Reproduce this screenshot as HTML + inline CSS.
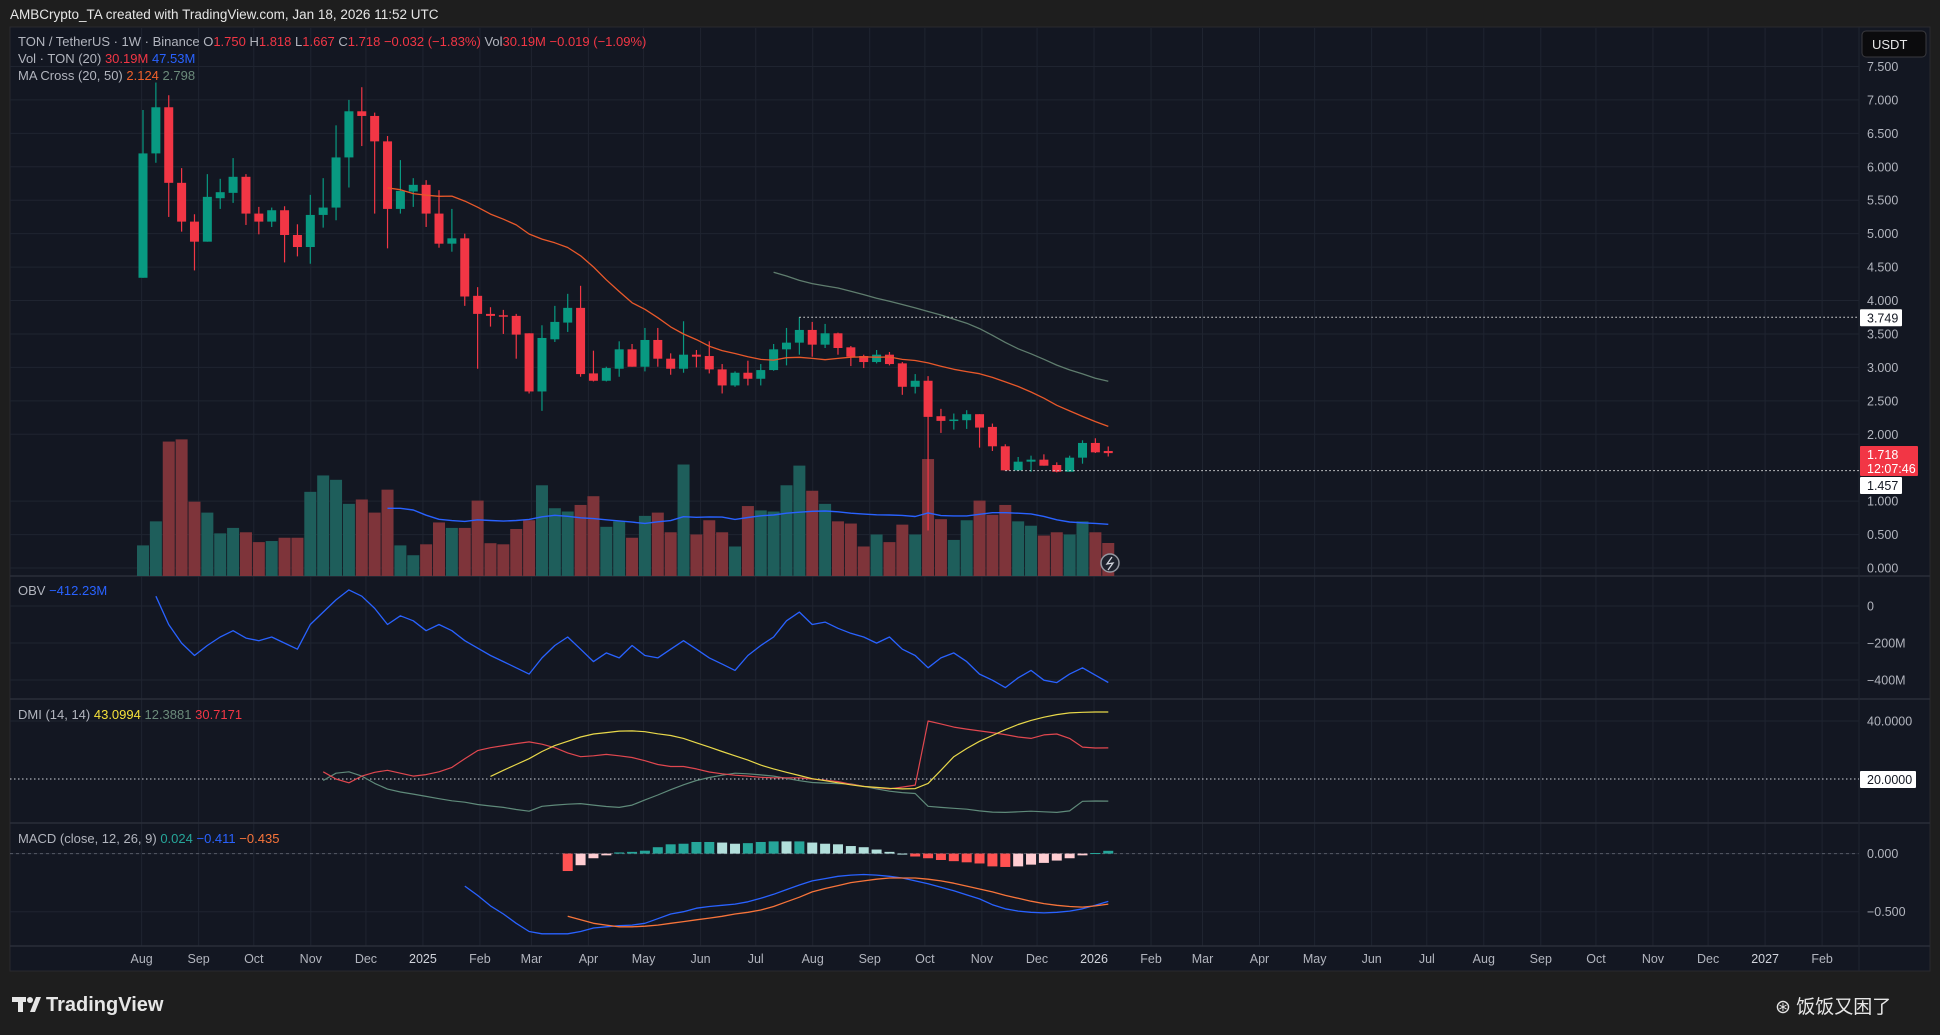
<!DOCTYPE html>
<html><head><meta charset="utf-8"><style>
html,body{margin:0;padding:0;background:#1e1e1e;}
svg{display:block;font-family:"Liberation Sans","Noto Sans CJK SC",sans-serif;}
</style></head><body>
<svg id="c" width="1940" height="1035" viewBox="0 0 1940 1035" xmlns="http://www.w3.org/2000/svg">
<rect x="0" y="0" width="1940" height="1035" fill="#1e1e1e"/>
<text x="10" y="19" font-size="13.5" fill="#e6e6e6">AMBCrypto_TA created with TradingView.com, Jan 18, 2026 11:52 UTC</text>
<rect x="10" y="27" width="1920" height="944" fill="#131722" stroke="#2a2a2e"/>
<g id="grid"></g>
<g id="panes"></g>
<g id="vol"></g>
<g id="candles"></g>
<g id="lines"></g>
<g id="axes"></g>
<g font-size="13">
<text x="18" y="46" fill="#b2b5be">TON / TetherUS · 1W · Binance  O<tspan fill="#f23645">1.750</tspan>  H<tspan fill="#f23645">1.818</tspan>  L<tspan fill="#f23645">1.667</tspan>  C<tspan fill="#f23645">1.718</tspan>  <tspan fill="#f23645">−0.032 (−1.83%)</tspan>  Vol<tspan fill="#f23645">30.19M</tspan>  <tspan fill="#f23645">−0.019 (−1.09%)</tspan></text>
<text x="18" y="63" fill="#b2b5be">Vol · TON (20)  <tspan fill="#f23645">30.19M</tspan>  <tspan fill="#2962ff">47.53M</tspan></text>
<text x="18" y="80" fill="#b2b5be">MA Cross (20, 50)  <tspan fill="#f0602a">2.124</tspan>  <tspan fill="#6b8a7a">2.798</tspan></text>
<text x="18" y="595" fill="#b2b5be">OBV  <tspan fill="#2962ff">−412.23M</tspan></text>
<text x="18" y="719" fill="#b2b5be">DMI (14, 14)  <tspan fill="#f5e03a">43.0994</tspan>  <tspan fill="#6b8a7a">12.3881</tspan>  <tspan fill="#f23645">30.7171</tspan></text>
<text x="18" y="843" fill="#b2b5be">MACD (close, 12, 26, 9)  <tspan fill="#26a69a">0.024</tspan>  <tspan fill="#2962ff">−0.411</tspan>  <tspan fill="#f7743a">−0.435</tspan></text>
</g>
<rect x="1862" y="31" width="64" height="26" rx="4" fill="#0b0b0d" stroke="#3a3a3e"/>
<text x="1872" y="49" font-size="13" fill="#e6e6e6">USDT</text>
<g>
<rect x="12" y="997" width="14" height="5" fill="#e6e6e6"/><rect x="18" y="997" width="5" height="15" fill="#e6e6e6"/><circle cx="30" cy="1000" r="3" fill="#e6e6e6"/><polygon points="30,1012 36,997 41,997 35,1012" fill="#e6e6e6"/>
<text x="46" y="1011" font-size="20" font-weight="bold" fill="#e6e6e6">TradingView</text>
</g>
<text x="1775" y="1013" font-size="19" fill="#e6e6e6">⊛ 饭饭又困了</text>
</svg>
<script>
const opens=[4.34,6.20,6.89,5.76,5.18,4.88,5.53,5.61,5.85,5.30,5.18,5.35,4.98,4.80,5.28,5.39,6.14,6.83,6.76,6.38,5.37,5.63,5.73,5.30,4.85,4.93,4.07,3.80,3.78,3.77,3.51,2.64,3.42,3.67,3.89,2.91,2.80,2.98,3.27,3.01,3.41,3.13,2.98,3.19,3.17,2.97,2.73,2.92,2.83,2.96,3.27,3.37,3.56,3.34,3.51,3.30,3.17,3.08,3.19,3.06,2.71,2.80,2.27,2.21,2.21,2.30,2.11,1.82,1.46,1.59,1.62,1.54,1.44,1.65,1.87,1.750];
const highs=[6.85,7.26,7.07,5.98,5.29,5.89,5.82,6.13,5.89,5.40,5.39,5.41,5.14,5.58,5.83,6.62,7.00,7.19,6.81,6.46,6.10,5.83,5.80,5.65,5.37,5.00,4.20,3.90,3.86,3.80,3.51,3.63,3.92,4.10,4.22,3.25,3.01,3.39,3.35,3.59,3.59,3.21,3.69,3.26,3.39,3.05,2.94,3.10,3.05,3.35,3.59,3.75,3.68,3.65,3.52,3.32,3.19,3.26,3.23,3.08,2.90,2.87,2.38,2.31,2.36,2.30,2.16,1.85,1.66,1.68,1.70,1.58,1.68,1.91,1.94,1.818];
const lows=[4.34,6.06,5.25,5.03,4.45,4.88,5.37,5.46,5.13,4.99,5.10,4.57,4.66,4.55,5.09,5.20,5.69,6.31,5.30,4.78,5.30,5.40,5.10,4.79,4.73,3.92,2.98,3.61,3.50,3.13,2.61,2.35,3.38,3.53,2.86,2.79,2.79,2.86,3.01,2.94,3.01,2.89,2.92,3.00,2.91,2.61,2.71,2.73,2.73,2.95,3.03,3.19,3.16,3.29,3.19,3.02,2.99,3.06,3.03,2.59,2.61,0.56,2.02,2.07,2.08,1.80,1.75,1.46,1.46,1.44,1.53,1.43,1.44,1.56,1.72,1.667];
const closes=[6.20,6.89,5.76,5.18,4.88,5.55,5.62,5.85,5.30,5.18,5.35,4.98,4.80,5.28,5.39,6.14,6.83,6.76,6.38,5.37,5.64,5.73,5.30,4.85,4.93,4.06,3.80,3.77,3.77,3.49,2.64,3.44,3.68,3.89,2.90,2.80,2.99,3.27,3.01,3.41,3.13,2.98,3.19,3.16,2.97,2.73,2.92,2.83,2.96,3.27,3.37,3.56,3.34,3.51,3.29,3.16,3.08,3.19,3.05,2.71,2.80,2.26,2.20,2.22,2.30,2.10,1.82,1.46,1.59,1.62,1.53,1.44,1.65,1.87,1.73,1.718];
const volumes=[28,50,123,125,68,58,39,44,40,31,32,35,35,77,92,88,66,70,58,79,28,19,29,49,44,44,69,30,29,43,51,83,62,59,65,73,45,50,35,55,58,40,102,38,51,40,27,64,60,59,83,101,78,66,50,48,27,38,31,47,38,107,52,33,51,69,56,65,50,46,37,40,38,50,40,30.19];
const obv=[null,53,-100,-200,-267,-213,-167,-133,-173,-187,-167,-200,-233,-100,-33,33,87,53,-13,-100,-53,-80,-133,-100,-133,-187,-227,-267,-300,-333,-367,-280,-213,-167,-233,-300,-253,-280,-213,-267,-280,-233,-187,-233,-280,-313,-347,-267,-213,-167,-80,-33,-100,-87,-120,-147,-167,-200,-167,-233,-267,-333,-280,-253,-300,-367,-400,-440,-387,-347,-400,-413,-367,-333,-373,-412.23];
const adxStart=27;
const adx=[20.9,23,25,27,29.5,31.5,33,34.5,35.5,36,36.5,36.6,36.3,35.6,35,34,32.5,31,29.5,28,26.5,24.8,23.5,22.3,21.2,20.1,19.4,18.7,18,17.4,17.1,16.8,16.6,16.7,18.5,23,27.7,30.5,33,35,37,38.8,40.2,41.3,42.2,42.8,43,43.1,43.0994];
const diStart=14;
const plusDI=[19.5,22,22.5,21,18.5,16.5,15.5,14.8,14,13.2,12.5,12,11.2,10.7,10.2,9.5,8.9,10.6,11,11.3,11.5,11,10.5,10.2,11,12.8,14.5,16.3,18,19.5,20.5,21.3,22,21.8,21.4,21,20.2,19.4,18.8,18.6,18.4,18.3,17.5,16.6,15.8,15.3,15,10.6,10.2,9.9,9.6,9,8.6,8.5,8.7,8.9,8.7,8.5,9,12.3,12.4,12.3881];
const minusDI=[22.5,20,18.7,21,22.3,23,22,21,21.5,22.5,24,27,29.8,30.8,31.5,32.2,32.8,32,30.8,29,27.7,28,28.5,28,27.4,26.3,25,24.3,24.3,23.5,22.4,21.8,21.3,21,20.6,20.4,20.4,20.4,20,19.6,19.1,18.2,17.5,17,16.6,17.2,17.9,40,39,37.9,37.2,36.6,36,35.3,34.5,34,35.2,35.5,34,31,30.7,30.7171];
const macdStart=25;
const macdLine=[-0.28,-0.36,-0.45,-0.52,-0.60,-0.67,-0.69,-0.69,-0.69,-0.67,-0.64,-0.63,-0.62,-0.615,-0.60,-0.56,-0.52,-0.50,-0.47,-0.455,-0.445,-0.435,-0.415,-0.385,-0.35,-0.31,-0.27,-0.235,-0.215,-0.195,-0.185,-0.18,-0.185,-0.195,-0.21,-0.235,-0.26,-0.29,-0.32,-0.355,-0.39,-0.44,-0.475,-0.495,-0.505,-0.51,-0.505,-0.495,-0.475,-0.445,-0.411];
const sigStart=33;
const signalLine=[-0.54,-0.57,-0.60,-0.615,-0.63,-0.63,-0.625,-0.615,-0.60,-0.585,-0.57,-0.555,-0.54,-0.52,-0.505,-0.485,-0.455,-0.415,-0.375,-0.33,-0.30,-0.275,-0.25,-0.235,-0.22,-0.21,-0.21,-0.21,-0.22,-0.235,-0.255,-0.28,-0.305,-0.33,-0.36,-0.385,-0.41,-0.43,-0.445,-0.455,-0.46,-0.45,-0.435];
const priceTicks=[0,0.5,1,2,2.5,3,3.5,4,4.5,5,5.5,6,6.5,7,7.5];
const monthLabels=["Aug","Sep","Oct","Nov","Dec","2025","Feb","Mar","Apr","May","Jun","Jul","Aug","Sep","Oct","Nov","Dec","2026","Feb","Mar","Apr","May","Jun","Jul","Aug","Sep","Oct","Nov","Dec","2027","Feb"];
const monthDates=["2024-08-01","2024-09-01","2024-10-01","2024-11-01","2024-12-01","2025-01-01","2025-02-01","2025-03-01","2025-04-01","2025-05-01","2025-06-01","2025-07-01","2025-08-01","2025-09-01","2025-10-01","2025-11-01","2025-12-01","2026-01-01","2026-02-01","2026-03-01","2026-04-01","2026-05-01","2026-06-01","2026-07-01","2026-08-01","2026-09-01","2026-10-01","2026-11-01","2026-12-01","2027-01-01","2027-02-01"];

const NS="http://www.w3.org/2000/svg";
const X0=143,DX=12.87,PLOT_R=1859,PLOT_L=10;
const xOf=i=>X0+DX*i;
const xDate=d=>X0+6+DX*((new Date(d)-new Date("2024-08-05"))/604800000);
const pY=p=>568-p*66.87;
const vH=v=>v*1.093;
const obvY=m=>606-m*0.1855;
const dmiY=v=>779-(v-20)*2.9;
const macdY=v=>853.6-v*116.2;
function mk(tag,attrs,parent){const e=document.createElementNS(NS,tag);for(const k in attrs)e.setAttribute(k,attrs[k]);parent.appendChild(e);return e;}
const G=id=>document.getElementById(id);
const grid=G('grid'),panes=G('panes'),volG=G('vol'),cg=G('candles'),lg=G('lines'),ax=G('axes');

monthLabels.forEach((m,k)=>{const x=xDate(monthDates[k]);
 const l=mk('line',{x1:x,x2:x,y1:28,y2:946,stroke:'#1f2430','stroke-width':1},grid);
 
 
 const t=mk('text',{x:x,y:963,'font-size':12.5,fill:/^20/.test(m)?'#d1d4dc':'#b2b5be','text-anchor':'middle'},ax);t.textContent=m;
 
 
});
priceTicks.forEach(p=>{const y=pY(p);
 const l=mk('line',{x1:PLOT_L,x2:PLOT_R,y1:y,y2:y,stroke:'#1f2430'},grid);
 
 
 const t=mk('text',{x:1867,y:y+4.5,'font-size':12.5,fill:'#b2b5be'},ax);t.textContent=p.toFixed(3);
 
 
});
[[606,'0'],[643,'−200M'],[680,'−400M']].forEach(a=>{mk('line',{x1:PLOT_L,x2:PLOT_R,y1:a[0],y2:a[0],stroke:'#1f2430'},grid);
 const t=mk('text',{x:1867,y:a[0]+4.5,'font-size':12.5,fill:'#b2b5be'},ax);t.textContent=a[1];
 
 });
[[dmiY(40),'40.0000']].forEach(a=>{mk('line',{x1:PLOT_L,x2:PLOT_R,y1:a[0],y2:a[0],stroke:'#1f2430'},grid);
 const t=mk('text',{x:1867,y:a[0]+4.5,'font-size':12.5,fill:'#b2b5be'},ax);t.textContent=a[1];
 
 });
[[macdY(0),'0.000'],[macdY(-0.5),'−0.500']].forEach(a=>{mk('line',{x1:PLOT_L,x2:PLOT_R,y1:a[0],y2:a[0],stroke:'#1f2430'},grid);
 const t=mk('text',{x:1867,y:a[0]+4.5,'font-size':12.5,fill:'#b2b5be'},ax);t.textContent=a[1];
 
 });
mk('line',{x1:PLOT_L,x2:PLOT_R,y1:macdY(0),y2:macdY(0),stroke:'#555a66','stroke-dasharray':'3 3'},grid);
[576,699,823,946].forEach(y=>{const l=mk('line',{x1:10,x2:1930,y1:y,y2:y,stroke:'#2a2e39','stroke-width':1.5},panes);
 
 });
mk('line',{x1:PLOT_R,x2:PLOT_R,y1:27,y2:971,stroke:'#1f2430'},panes);

volumes.forEach((v,i)=>{const up=closes[i]>=opens[i];const h=vH(v);
 const r=mk('rect',{x:xOf(i)-6,y:576-h,width:12,height:h,fill:up?'#1e5e5b':'#7e343a'},volG);
 
 });
opens.forEach((o,i)=>{const c=closes[i],up=c>=o,col=up?'#089981':'#f23645',x=xOf(i);
 const w=mk('line',{x1:x,x2:x,y1:pY(highs[i]),y2:pY(lows[i]),stroke:col,'stroke-width':1.2},cg);
 
 
 const top=pY(Math.max(o,c)),bh=Math.max(1.5,Math.abs(pY(o)-pY(c)));
 const b=mk('rect',{x:x-4.5,y:top,width:9,height:bh,fill:col},cg);
 
 });

function sma(arr,n){return arr.map((_,i)=>i<n-1?null:arr.slice(i-n+1,i+1).reduce((a,b)=>a+b,0)/n);}
function poly(vals,start,yf,col,name,w){const pts=[];vals.forEach((v,k)=>{if(v!==null&&v!==undefined)pts.push(xOf(start+k).toFixed(1)+','+yf(v).toFixed(1));});
 const p=mk('polyline',{points:pts.join(' '),fill:'none',stroke:col,'stroke-width':w||1.3,'stroke-linejoin':'round'},lg);
 
 }
poly(sma(volumes,20),0,v=>576-vH(v),'#2962ff','volume-ma-line',1.4);
poly(sma(closes,20),0,pY,'#e8582a','ma20-line',1.3);
poly(sma(closes,50),0,pY,'#5f7d6e','ma50-line',1.3);
poly(obv,0,obvY,'#2962ff','obv-line',1.3);
mk('line',{x1:PLOT_L,x2:PLOT_R,y1:dmiY(20),y2:dmiY(20),stroke:'#d1d4dc','stroke-dasharray':'1.5 2.5'},lg);
poly(plusDI,diStart,dmiY,'#5f8a7a','plus-di-line',1.2);
poly(minusDI,diStart,dmiY,'#e0474f','minus-di-line',1.2);
poly(adx,adxStart,dmiY,'#e8d84a','adx-line',1.2);
let prev=null;
signalLine.forEach((s,k)=>{const i=sigStart+k,m=macdLine[i-macdStart],h=m-s;
 let col;if(h>=0)col=(prev===null||h>=prev)?'#26a69a':'#b2dfdb';else col=(prev===null||h<=prev)?'#ff5252':'#ffcdd2';
 prev=h;const y0=macdY(0),y1=macdY(h);
 const r=mk('rect',{x:xOf(i)-5,y:Math.min(y0,y1),width:10,height:Math.max(1,Math.abs(y1-y0)),fill:col},lg);
 
 });
poly(macdLine,macdStart,macdY,'#2962ff','macd-line',1.3);
poly(signalLine,sigStart,macdY,'#f7743a','signal-line',1.3);

mk('line',{x1:xOf(51),x2:PLOT_R,y1:pY(3.749),y2:pY(3.749),stroke:'#e6e6e6','stroke-dasharray':'1.5 2.5'},lg);
mk('line',{x1:xOf(67),x2:PLOT_R,y1:pY(1.457),y2:pY(1.457),stroke:'#e6e6e6','stroke-dasharray':'1.5 2.5'},lg);
function tag(y,h,txt,bg,fg,name,w){const r=mk('rect',{x:1860,y:y,width:w||42,height:h,fill:bg,rx:1},ax);
 
 
 txt.forEach((t,k)=>{const e=mk('text',{x:1867,y:y+13+k*14,'font-size':12.5,fill:fg},ax);e.textContent=t;});}
tag(pY(3.749)-8,17,['3.749'],'#ffffff','#131722','high-price-tag');
tag(446,30,['1.718','12:07:46'],'#f23645','#ffffff','last-price-tag',58);
tag(477,17,['1.457'],'#ffffff','#131722','low-price-tag');
tag(dmiY(20)-8,17,['20.0000'],'#ffffff','#131722','dmi-level-tag',56);
const ic=mk('circle',{cx:1110,cy:563,r:9,fill:'#1e222d',stroke:'#9598a1','stroke-width':1.5},lg);


mk('polyline',{points:'1112,557 1107,564 1113,563 1108,570',fill:'none',stroke:'#d1d4dc','stroke-width':1.3},lg);
</script>
</body></html>
